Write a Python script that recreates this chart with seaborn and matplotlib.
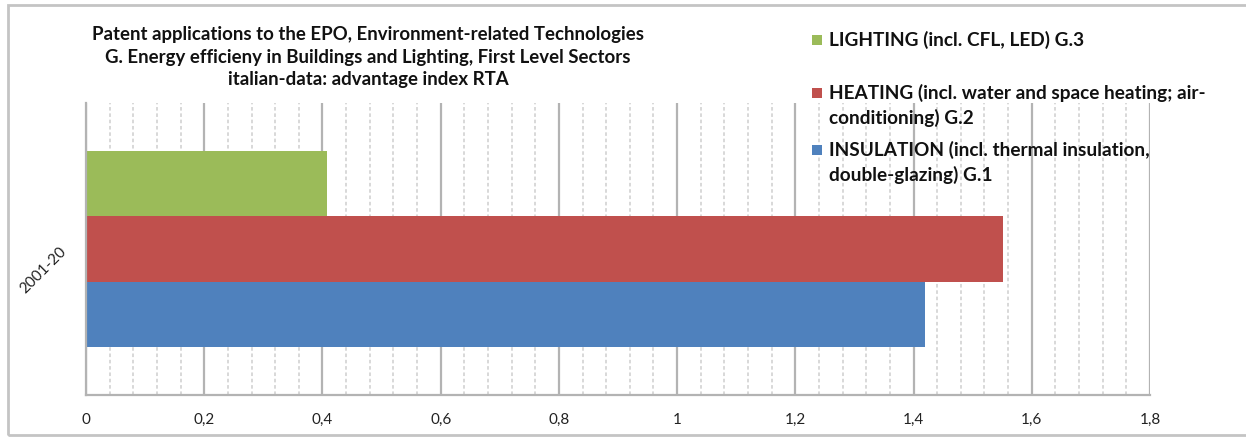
import matplotlib
matplotlib.use("Agg")
import matplotlib.pyplot as plt
import matplotlib.ticker as mticker
from matplotlib.patches import Rectangle
import pandas as pd
import seaborn as sns

# ---- data -------------------------------------------------------------
periods = ["2001-20"]
sectors = [
    "LIGHTING (incl. CFL, LED) G.3",
    "HEATING (incl. water and space heating; air-\nconditioning) G.2",
    "INSULATION (incl. thermal insulation,\ndouble-glazing) G.1",
]
rta_values = [0.408, 1.552, 1.42]
sector_colors = ["#9BBB59", "#C0504D", "#4F81BD"]
x_ticks = [0, 0.2, 0.4, 0.6, 0.8, 1.0, 1.2, 1.4, 1.6, 1.8]
title_lines = [
    "Patent applications to the EPO, Environment-related Technologies",
    "G. Energy efficieny in Buildings and Lighting, First Level Sectors",
    "italian-data: advantage index RTA",
]

df = pd.DataFrame({
    "period": periods * len(sectors),
    "sector": sectors,
    "rta": rta_values,
})

# ---- style ------------------------------------------------------------
sns.set_theme(style="white")
plt.rcParams["font.family"] = ["Lato", "DejaVu Sans"]
axis_grey = "#b3b3b3"

W, H = 1246, 438
fig = plt.figure(figsize=(W / 100, H / 100), dpi=100)
fig.patch.set_facecolor("white")

# outer chart frame
fig.add_artist(Rectangle((8 / W, 3 / H), 1.2, 1 - 8 / H,
                         transform=fig.transFigure, fill=False,
                         edgecolor="#c4c4c4", linewidth=2, clip_on=False))

ax = fig.add_axes([86 / W, 43 / H, 1064 / W, 292 / H])
sns.barplot(data=df, x="rta", y="period", hue="sector", hue_order=sectors,
            palette=sector_colors, orient="h", width=0.672, saturation=1,
            errorbar=None, legend=False, edgecolor="none", linewidth=0, ax=ax)

# x axis: major/minor grid
ax.set_xlim(0, 1.8)
ax.set_xticks(x_ticks)
ax.xaxis.set_minor_locator(mticker.MultipleLocator(0.04))
ax.xaxis.set_major_formatter(
    mticker.FuncFormatter(lambda v, _: f"{v:g}".replace(".", ",")))
ax.set_axisbelow(True)
ax.grid(which="major", axis="x", color=axis_grey, linewidth=1.6, linestyle="-")
ax.grid(which="minor", axis="x", color="#d6d6d6", linewidth=1.3,
        linestyle=(0, (2, 1.5)))
ax.grid(False, axis="y")

# y axis: boundary ticks, centred category label
ax.set_ylim(0.5, -0.5)
ax.set_yticks([-0.5, 0.5])
ax.set_yticklabels([])
ax.set_yticks([0], labels=periods, minor=True)
plt.setp(ax.get_yticklabels(minor=True), rotation=45, ha="right",
         va="center", rotation_mode="anchor")

ax.tick_params(axis="x", which="major", direction="out", length=4,
               width=1.3, color=axis_grey, pad=9, labelsize=11,
               labelcolor="#222222")
ax.tick_params(axis="x", which="minor", length=0)
ax.tick_params(axis="y", which="major", direction="out", length=4,
               width=1.3, color=axis_grey)
ax.tick_params(axis="y", which="minor", length=0, pad=16, labelsize=11,
               labelcolor="#222222")

ax.set_xlabel("")
ax.set_ylabel("")
for side in ("top", "right"):
    ax.spines[side].set_visible(False)
for side in ("left", "bottom"):
    ax.spines[side].set_color(axis_grey)
    ax.spines[side].set_linewidth(1.6)

# title
fig.text(368 / W, 1 - 57 / H, "\n".join(title_lines), ha="center",
         va="center", fontsize=13.4, fontweight="bold", color="#111111",
         linespacing=1.36)

# legend: square key aligned with the first line of each entry
legend_first_line = [40, 93, 150]
line_step = 24.5
for label, color, y0 in zip(sectors, sector_colors, legend_first_line):
    fig.add_artist(Rectangle((812 / W, 1 - (y0 + 5) / H), 10 / W, 10 / H,
                             transform=fig.transFigure, facecolor=color,
                             edgecolor="none"))
    for i, line in enumerate(label.split("\n")):
        fig.text(829 / W, 1 - (y0 + i * line_step) / H, line, ha="left",
                 va="center", fontsize=13.7, fontweight="bold",
                 color="#111111")

fig.savefig("out.png", dpi=100)
